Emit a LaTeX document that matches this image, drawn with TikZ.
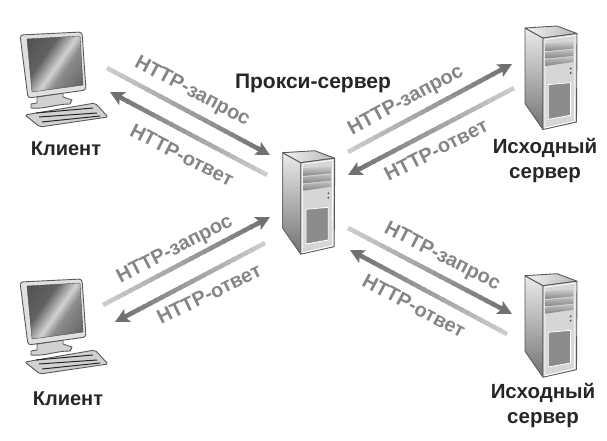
\documentclass[tikz,border=0pt]{standalone}
\usepackage{fontspec}
\setmainfont{Liberation Sans}
\usetikzlibrary{arrows.meta,calc}

\pgfdeclarehorizontalshading{screenshade}{100bp}{color(0bp)=(black!72); color(38bp)=(black!62); color(52bp)=(black!18); color(60bp)=(black!45); color(100bp)=(black!75)}

\tikzset{
    outline/.style={draw=black!65, line width=0.9pt, line join=round},
    msg/.style={font=\bfseries\fontsize{20}{22}\selectfont, text=black!48, inner sep=0pt},
    hostname/.style={font=\bfseries\fontsize{#1}{25}\selectfont, text=black!85, align=center, inner sep=0pt},
    % Desktop computer, drawn at picture coordinates
    desktop/.pic={
        % Stand
        \draw[outline, fill=black!18] (37,97) -- (37,103) -- (31,104) -- (31,108) to[out=-5,in=180] (70,104) -- (72,100) -- (63,97) -- (63,93) -- cycle;
        % Monitor
        \draw[outline, fill=black!12, rounded corners=3pt] (20,35) -- (82,32) -- (86,90) -- (28,98) -- cycle;
        \shade[shading=screenshade, shading angle=-35, draw=black!70] (27,39) -- (80,36) -- (83,85) -- (32,92) -- cycle;
        % Keyboard
        \draw[outline, fill=black!18, rounded corners=2pt] (25,115) -- (95,103) -- (108,117) -- (40,127) -- cycle;
        \draw[black!85, line width=1pt] (36,113) -- (93,108);
        \draw[black!85, line width=1pt] (39,117) -- (97,113);
        \draw[black!85, line width=1pt] (42,122) -- (100,116);
    },
    % Tower, origin at its top left back corner
    tower/.pic={
        % Side and top
        \shade[top color=black!8, bottom color=black!55, outline] (0,0) -- (18,10) -- (18,101.5) -- (0,75.5) -- cycle;
        \shade[left color=black!5, right color=black!28, outline] (0,0) -- (32,-2) -- (52,5.5) -- (18,10) -- cycle;
        % Front
        \draw[outline, fill=black!16] (18,10) -- (52,5.5) -- (51.5,94) -- (18,101.5) -- cycle;
        \draw[white, line width=0.8pt] (20,11.5) -- (50,7.5) -- (49.5,93) -- (20,100) -- cycle;
        % Drive bays
        \shade[top color=black!15, bottom color=black!48] (20.6,15.6) -- (48.3,12.3) -- (48.3,20.6) -- (20.6,23.3) -- cycle;
        \shade[top color=black!25, bottom color=black!48] (20.6,24.3) -- (48.3,21.6) -- (48.3,28) -- (20.6,30.6) -- cycle;
        \shade[top color=black!25, bottom color=black!48] (20.6,31.6) -- (48.3,29) -- (48.3,34) -- (20.6,38) -- cycle;
        % Buttons
        \fill[black!70] (45.6,40.6) circle (1pt);
        \fill[black!70] (45.6,45) circle (1pt);
        % Lower panel
        \draw[white, line width=0.8pt, fill=black!45] (23.3,56.6) -- (45.6,54.6) -- (45.6,87.3) -- (23.3,91.3) -- cycle;
    },
}

% Message arrow, fades from light at the tail to dark at the tip
\newcommand{\fadearrow}[2]{
    \foreach \i in {0,...,23} {
        \pgfmathsetmacro{\ta}{\i/25}
        \pgfmathsetmacro{\tb}{(\i+1.3)/25}
        \pgfmathsetmacro{\shadeval}{20+\i*1.5}
        \draw[line width=4.5pt, black!\shadeval] ($(#1)!\ta!(#2)$) -- ($(#1)!\tb!(#2)$);
    }
    \draw[line width=4.5pt, black!56, -{Stealth[length=14pt,width=14pt,inset=3pt]}] ($(#1)!0.96!(#2)$) -- (#2);
}

\begin{document}
\begin{tikzpicture}[x=1pt,y=-1pt]
    \useasboundingbox (0,0) rectangle (607,441);

    % Computers
    \pic at (0,0) {desktop};
    \pic at (0,247) {desktop};
    \pic at (282.7,152.7) {tower};
    \pic at (525,28) {tower};
    \pic at (525,275.7) {tower};

    % Names
    \node[hostname=20] (client-a) at (66,149) {Клиент};
    \node[hostname=20] (client-b) at (68,399) {Клиент};
    \node[hostname=21] (proxy) at (313,83) {Прокси-сервер};
    \node[hostname=20.5] (origin-a) at (545,160.5) {Исходный\\сервер};
    \node[hostname=20.5] (origin-b) at (543,405.5) {Исходный\\сервер};

    % Arrow ends
    \coordinate (ca-req) at (107,68);
    \coordinate (pa-req) at (270,155);
    \coordinate (pa-res) at (267,175);
    \coordinate (ca-res) at (110,92);
    \coordinate (cb-req) at (103,305);
    \coordinate (pb-req) at (270,217);
    \coordinate (pb-res) at (265,243);
    \coordinate (cb-res) at (115,322);
    \coordinate (pc-req) at (348,152);
    \coordinate (oa-req) at (512,64);
    \coordinate (oa-res) at (514,88);
    \coordinate (pc-res) at (348,175);
    \coordinate (pd-req) at (348,228);
    \coordinate (ob-req) at (512,314);
    \coordinate (ob-res) at (507,334);
    \coordinate (pd-res) at (350,250);

    % Arrows
    \fadearrow{ca-req}{pa-req}
    \fadearrow{pa-res}{ca-res}
    \fadearrow{cb-req}{pb-req}
    \fadearrow{pb-res}{cb-res}
    \fadearrow{pc-req}{oa-req}
    \fadearrow{oa-res}{pc-res}
    \fadearrow{pd-req}{ob-req}
    \fadearrow{ob-res}{pd-res}

    % Message labels
    \node[msg, rotate=-28] (lab-a) at (192,92) {HTTP-запрос};
    \node[msg, rotate=-27] (lab-b) at (182,155) {HTTP-ответ};
    \node[msg, rotate=27] (lab-c) at (175,250) {HTTP-запрос};
    \node[msg, rotate=26] (lab-d) at (209,294) {HTTP-ответ};
    \node[msg, rotate=28] (lab-e) at (406,101) {HTTP-запрос};
    \node[msg, rotate=27] (lab-f) at (436,150) {HTTP-ответ};
    \node[msg, rotate=-27] (lab-g) at (442,257) {HTTP-запрос};
    \node[msg, rotate=-28] (lab-h) at (414,306) {HTTP-ответ};
\end{tikzpicture}
\end{document}
